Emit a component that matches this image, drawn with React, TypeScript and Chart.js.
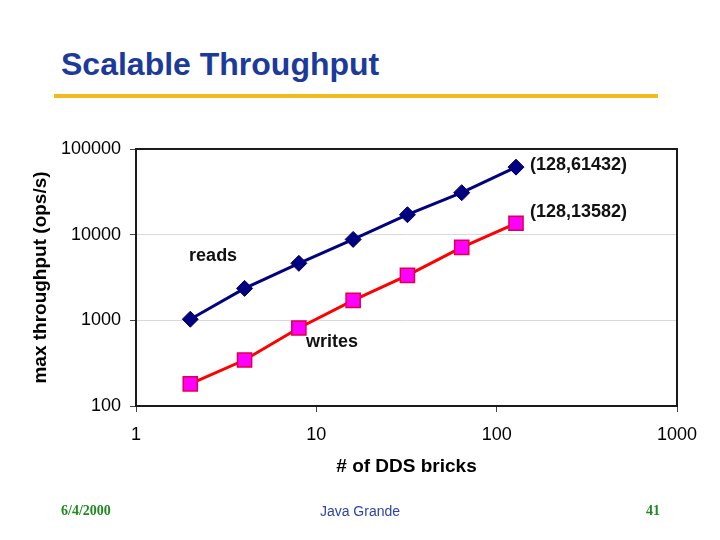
import React, { useEffect, useRef } from "react";
import { Chart, registerables } from "chart.js";

Chart.register(...registerables);

const bricks = [2, 4, 8, 16, 32, 64, 128];
const readsValues = [1030, 2360, 4630, 8800, 17100, 30900, 61432];
const writesValues = [181, 344, 813, 1710, 3350, 7110, 13582];
const xTickValues = [1, 10, 100, 1000];
const yTickValues = [100, 1000, 10000, 100000];
const noteTexts = ["(128,61432)", "(128,13582)", "reads", "writes"];
const noteX = [153, 153, 1.97, 8.77];
const noteY = [65000, 18400, 5700, 558];

const notesPlugin = {
  id: "notes",
  beforeDatasetsDraw(chart: any) {
    const { ctx, chartArea } = chart;
    ctx.save();
    ctx.strokeStyle = "#1a1a1a";
    ctx.lineWidth = 2;
    ctx.strokeRect(chartArea.left, chartArea.top, chartArea.right - chartArea.left, chartArea.bottom - chartArea.top);
    ctx.restore();
  },
  afterDatasetsDraw(chart: any) {
    const { ctx, scales } = chart;
    ctx.save();
    ctx.font = "bold 18px 'Liberation Sans', Arial, sans-serif";
    ctx.fillStyle = "#111";
    ctx.textAlign = "left";
    ctx.textBaseline = "middle";
    noteTexts.forEach((t, i) => {
      ctx.fillText(t, scales.x.getPixelForValue(noteX[i]), scales.y.getPixelForValue(noteY[i]));
    });
    ctx.restore();
  },
};

export default function App() {
  const ref = useRef<HTMLCanvasElement>(null);
  useEffect(() => {
    const chart = new Chart(ref.current!, {
      type: "line",
      data: {
        datasets: [
          {
            label: "reads",
            data: bricks.map((b, i) => ({ x: b, y: readsValues[i] })),
            borderColor: "#000080",
            backgroundColor: "#000080",
            borderWidth: 3,
            pointStyle: "rectRot",
            pointRadius: 8,
            pointBorderWidth: 1,
            pointBorderColor: "#000060",
          },
          {
            label: "writes",
            data: bricks.map((b, i) => ({ x: b, y: writesValues[i] })),
            borderColor: "#ff0000",
            backgroundColor: "#ff00ff",
            borderWidth: 3,
            pointStyle: "rect",
            pointRadius: 10,
            pointBorderWidth: 1.5,
            pointBorderColor: "#e0004a",
          },
        ],
      },
      options: {
        responsive: false,
        animation: false,
        layout: { padding: { left: 26, top: 149, right: 43, bottom: 60 } },
        plugins: { legend: { display: false }, tooltip: { enabled: false } },
        scales: {
          x: {
            type: "logarithmic",
            min: 1,
            max: 1000,
            afterBuildTicks: (s: any) => {
              s.ticks = xTickValues.map((v) => ({ value: v }));
            },
            afterFit: (s: any) => {
              s.height = 74;
            },
            grid: { drawOnChartArea: false, drawTicks: true, tickLength: 6, tickColor: "#444" },
            border: { display: false },
            ticks: {
              autoSkip: false,
              maxRotation: 0,
              padding: 12,
              color: "#000",
              font: { size: 18, family: "'Liberation Sans', Arial, sans-serif" },
              callback: (v: any) => String(v),
            },
            title: {
              display: true,
              text: "# of DDS bricks",
              color: "#000",
              padding: { top: 0, bottom: 2 },
              font: { size: 19, weight: "bold", family: "'Liberation Sans', Arial, sans-serif" },
            },
          },
          y: {
            type: "logarithmic",
            min: 100,
            max: 100000,
            afterBuildTicks: (s: any) => {
              s.ticks = yTickValues.map((v) => ({ value: v }));
            },
            afterFit: (s: any) => {
              s.width = 110;
            },
            grid: { color: "#d9d9d9", lineWidth: 1, drawTicks: true, tickLength: 6, tickColor: "#444" },
            border: { display: false },
            ticks: {
              autoSkip: false,
              padding: 9,
              color: "#000",
              font: { size: 18, family: "'Liberation Sans', Arial, sans-serif" },
              callback: (v: any) => String(v),
            },
            title: {
              display: true,
              text: "max throughput (ops/s)",
              color: "#000",
              padding: { top: 3, bottom: 0 },
              font: { size: 19, weight: "bold", family: "'Liberation Sans', Arial, sans-serif" },
            },
          },
        },
      },
      plugins: [notesPlugin],
    } as any);
    return () => chart.destroy();
  }, []);

  return (
    <div style={{ position: "fixed", left: 0, top: 0, width: 720, height: 540, background: "#fff", overflow: "hidden" }}>
      <div
        style={{
          position: "absolute",
          left: 61,
          top: 48,
          fontFamily: "'Liberation Sans', Arial, sans-serif",
          fontWeight: "bold",
          fontSize: 32,
          lineHeight: "32px",
          color: "#1c3a9c",
          whiteSpace: "nowrap",
        }}
      >
        Scalable Throughput
      </div>
      <div style={{ position: "absolute", left: 54, top: 94, width: 604, height: 4, background: "#f0bc1c" }} />
      <canvas ref={ref} width={720} height={540} style={{ position: "absolute", left: 0, top: 0 }} />
      <div
        style={{
          position: "absolute",
          left: 61,
          top: 502,
          fontFamily: "'Liberation Serif', 'Times New Roman', serif",
          fontWeight: "bold",
          fontSize: 14,
          lineHeight: "18px",
          color: "#1f8a1f",
        }}
      >
        6/4/2000
      </div>
      <div
        style={{
          position: "absolute",
          left: 0,
          width: 720,
          top: 502,
          textAlign: "center",
          fontFamily: "'Liberation Sans', Arial, sans-serif",
          fontSize: 14,
          lineHeight: "18px",
          color: "#2a44aa",
        }}
      >
        Java Grande
      </div>
      <div
        style={{
          position: "absolute",
          left: 646,
          top: 502,
          fontFamily: "'Liberation Serif', 'Times New Roman', serif",
          fontWeight: "bold",
          fontSize: 14,
          lineHeight: "18px",
          color: "#1f8a1f",
        }}
      >
        41
      </div>
    </div>
  );
}
